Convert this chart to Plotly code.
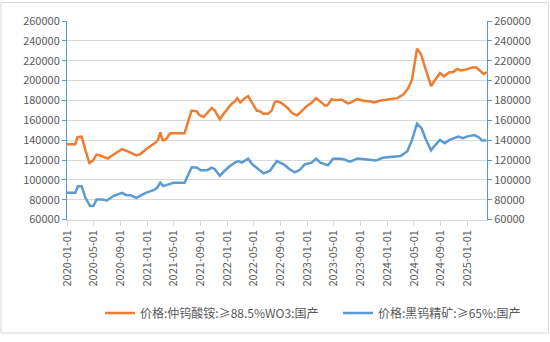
import plotly.graph_objects as go

# ---- data ----
apt_dates = [
    "2020-01-01", "2020-02-08", "2020-02-18", "2020-03-08", "2020-03-25", "2020-04-12", "2020-04-28",
    "2020-05-15", "2020-06-01", "2020-06-20", "2020-07-05", "2020-07-28", "2020-08-20", "2020-09-08",
    "2020-09-25", "2020-10-15", "2020-11-12", "2020-12-01", "2020-12-25", "2021-01-15", "2021-02-08",
    "2021-02-20", "2021-03-01", "2021-03-12", "2021-03-28", "2021-04-15", "2021-05-01", "2021-06-20",
    "2021-07-01", "2021-07-22", "2021-08-15", "2021-08-25", "2021-09-15", "2021-10-01", "2021-10-22",
    "2021-11-05", "2021-11-28", "2021-12-15", "2022-01-01", "2022-01-20", "2022-02-05", "2022-02-15",
    "2022-03-01", "2022-03-22", "2022-04-06", "2022-04-25", "2022-05-15", "2022-06-01", "2022-06-15",
    "2022-07-05", "2022-07-15", "2022-07-22", "2022-08-05", "2022-08-15", "2022-09-01", "2022-10-01",
    "2022-10-22", "2022-11-15", "2022-12-08", "2023-01-01", "2023-01-22", "2023-02-10", "2023-03-01",
    "2023-03-22", "2023-04-01", "2023-04-22", "2023-05-10", "2023-06-05", "2023-07-05", "2023-07-20",
    "2023-08-15", "2023-09-15", "2023-10-15", "2023-11-01", "2023-12-01", "2024-01-05", "2024-02-15",
    "2024-03-15", "2024-04-06", "2024-04-22", "2024-05-04", "2024-05-15", "2024-06-01", "2024-06-15",
    "2024-07-01", "2024-07-18", "2024-08-01", "2024-08-28", "2024-09-15", "2024-09-25", "2024-10-10",
    "2024-10-25", "2024-11-15", "2024-12-01", "2024-12-20", "2025-01-22", "2025-02-10", "2025-03-05",
    "2025-03-15", "2025-03-28",
]
apt_values = [
    136000, 136000, 143000, 143500, 130000, 117000, 119500,
    125500, 124500, 123000, 121500, 125000, 128000, 131000,
    129500, 127800, 124600, 126000, 130500, 133600, 137700,
    141000, 147800, 140000, 141000, 147000, 146900, 146900,
    155000, 169800, 169000, 165600, 163300, 167000, 172400,
    169800, 161000, 166500, 171500, 176400, 179000, 182300,
    178000, 182300, 184300, 177000, 169800, 168800, 166500,
    166500, 168200, 169800, 178000, 179000, 178000, 173000,
    167500, 164900, 169800, 174800, 178000, 182300, 179000,
    174800, 174800, 181300, 180300, 181000, 177000, 178000,
    181300, 179700, 179000, 178000, 180000, 181300, 182300,
    186200, 192800, 201000, 215700, 232000, 227000, 217400,
    205900, 194400, 199300, 207500, 204300, 206000, 208500,
    208500, 211800, 210200, 210800, 213100, 213100, 208500,
    206500, 208500,
]

wolf_dates = [
    "2020-01-01", "2020-02-08", "2020-02-20", "2020-03-08", "2020-03-25", "2020-04-15", "2020-05-01",
    "2020-05-15", "2020-06-08", "2020-07-01", "2020-08-01", "2020-09-08", "2020-09-28", "2020-10-15",
    "2020-11-12", "2020-12-01", "2020-12-25", "2021-02-01", "2021-02-15", "2021-03-01", "2021-03-15",
    "2021-04-15", "2021-05-01", "2021-06-20", "2021-07-05", "2021-07-22", "2021-08-15", "2021-09-01",
    "2021-10-01", "2021-10-22", "2021-11-05", "2021-11-28", "2021-12-20", "2022-01-10", "2022-02-05",
    "2022-02-20", "2022-03-08", "2022-04-06", "2022-04-25", "2022-05-20", "2022-06-15", "2022-07-05",
    "2022-07-15", "2022-08-01", "2022-08-15", "2022-09-15", "2022-10-15", "2022-11-05", "2022-11-28",
    "2022-12-20", "2023-01-20", "2023-02-10", "2023-03-01", "2023-04-05", "2023-04-28", "2023-05-28",
    "2023-06-15", "2023-07-15", "2023-08-18", "2023-09-20", "2023-11-01", "2023-11-10", "2023-12-10",
    "2024-01-20", "2024-03-01", "2024-04-01", "2024-04-22", "2024-05-15", "2024-06-05", "2024-06-22",
    "2024-07-18", "2024-08-01", "2024-08-28", "2024-09-18", "2024-10-10", "2024-11-20", "2024-12-10",
    "2024-12-28", "2025-01-30", "2025-02-20", "2025-03-08", "2025-03-28",
]
wolf_values = [
    87000, 87000, 93700, 93700, 82000, 73800, 74000,
    80300, 80300, 79300, 84000, 87000, 84600, 84600,
    82000, 84600, 87000, 90000, 92000, 97300, 93700,
    96000, 97000, 97000, 104200, 112400, 112400, 109800,
    109800, 112400, 110800, 104200, 109200, 113400, 117400,
    119000, 117400, 121300, 115700, 110800, 106600, 108200,
    109200, 114800, 119000, 115700, 110200, 107500, 110200,
    115700, 117400, 121300, 117400, 114800, 121300, 121300,
    120700, 118400, 121600, 120700, 120000, 119500, 122300,
    123000, 124000, 128900, 140300, 156700, 151800, 142000,
    129800, 133800, 140300, 137000, 140300, 143600, 142000,
    143600, 145200, 143000, 139700, 139700,
]

apt_name = "价格:仲钨酸铵:≥88.5%WO3:国产"
wolf_name = "价格:黑钨精矿:≥65%:国产"

y_range = [60000, 260000]
x_range = ["2020-01-01", "2025-03-30"]

ORANGE = "#ED7D31"
BLUE = "#5B9BD5"
GRID = "#D9D9D9"
TXT = "#595959"
FONT = "Noto Sans CJK SC, Noto Sans, sans-serif"

fig = go.Figure()
fig.add_trace(go.Scatter(x=apt_dates, y=apt_values, name=apt_name, mode="lines",
                         line=dict(color=ORANGE, width=2.5), yaxis="y", legend="legend"))
fig.add_trace(go.Scatter(x=wolf_dates, y=wolf_values, name=wolf_name, mode="lines",
                         line=dict(color=BLUE, width=2.5), yaxis="y2", legend="legend2"))

L, R, T, B = 67, 63, 20, 118
W, H = 550, 342
pw, ph = W - L - R, H - T - B


def leg(xpx):
    return dict(orientation="h", xref="container", yref="container",
                x=xpx / W, xanchor="left", y=1 - 313 / H, yanchor="middle",
                font=dict(size=12, color=TXT), bgcolor="rgba(0,0,0,0)")


fig.update_layout(
    width=W, height=H,
    margin=dict(l=L, r=R, t=T, b=B),
    paper_bgcolor="white", plot_bgcolor="white",
    font=dict(family=FONT, size=11, color=TXT),
    showlegend=True,
    legend=leg(100),
    legend2=leg(338),
    xaxis=dict(type="date", range=x_range, tick0="2020-01-01", dtick="M4",
               tickformat="%Y-%m-%d", tickangle=-90, showgrid=False,
               showline=True, linecolor=GRID, linewidth=1,
               ticks="outside", ticklen=5, tickcolor=GRID,
               tickfont=dict(size=11, color=TXT)),
    yaxis=dict(range=y_range, dtick=20000, showgrid=True, gridcolor=GRID, gridwidth=1,
               showline=True, linecolor=BLUE, linewidth=1, ticks="outside", ticklen=4,
               tickcolor=BLUE, tickformat="d", zeroline=False,
               tickfont=dict(size=11, color=TXT)),
    yaxis2=dict(range=y_range, dtick=20000, overlaying="y", side="right", showgrid=False,
                showline=True, linecolor=BLUE, linewidth=1, ticks="outside", ticklen=4,
                tickcolor=BLUE, tickformat="d", zeroline=False,
                tickfont=dict(size=11, color=TXT)),
    shapes=[dict(type="rect", xref="paper", yref="paper",
                 x0=-(L - 1) / pw, x1=1 + (R - 1.5) / pw,
                 y0=-(B - 1.5) / ph, y1=1 + (T - 1) / ph,
                 line=dict(color=GRID, width=1), fillcolor="rgba(0,0,0,0)", layer="below")],
)

fig.write_html("out.html")
